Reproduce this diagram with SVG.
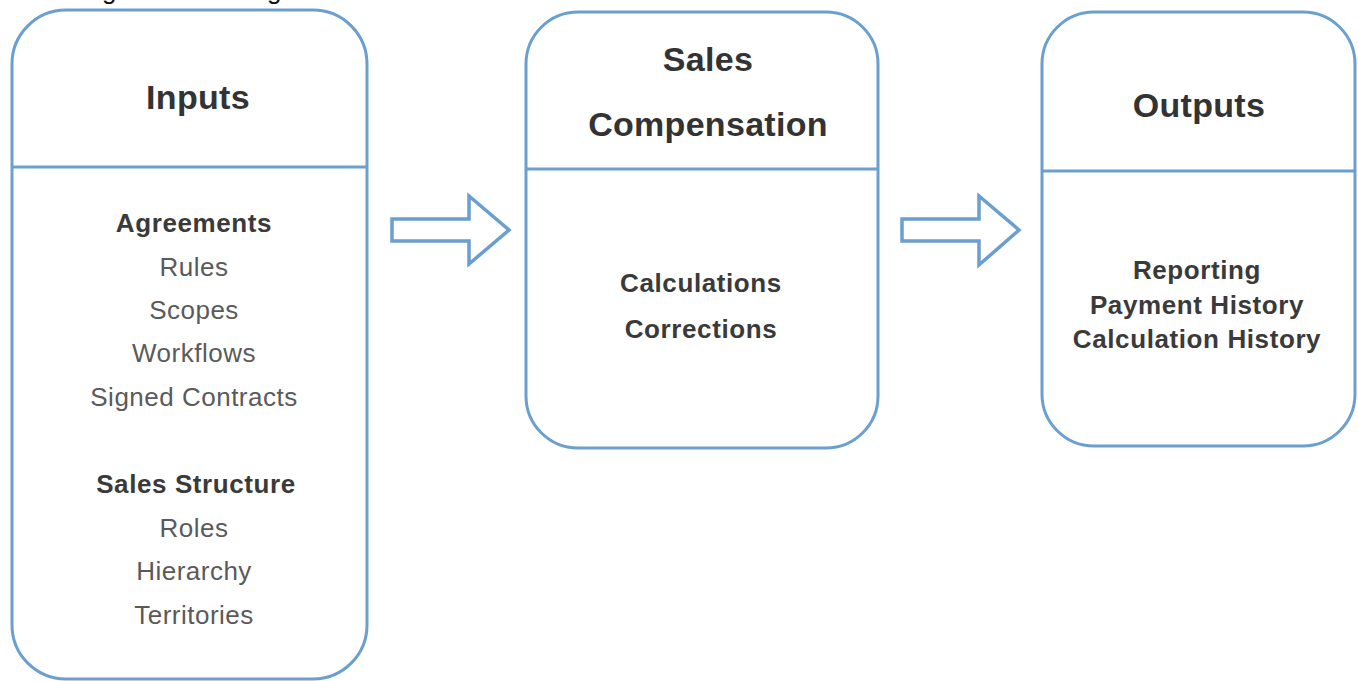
<svg xmlns="http://www.w3.org/2000/svg" width="1358" height="681" viewBox="0 0 1358 681">
  <style>
    .box { fill: #ffffff; stroke: #6a9fd0; stroke-width: 3; }
    .div { stroke: #6a9fd0; stroke-width: 3; }
    .arrow { fill: #ffffff; stroke: #6a9fd0; stroke-width: 3.5; stroke-linejoin: miter; }
    text { font-family: "Liberation Sans", Arial, sans-serif; text-anchor: middle; }
    .title { font-size: 34px; font-weight: bold; fill: #333333; letter-spacing: 0.3px; }
    .head { font-size: 26px; font-weight: bold; fill: #3a3a3a; letter-spacing: 0.6px; }
    .item { font-size: 26px; fill: #5a5a5a; letter-spacing: 0.5px; }
    .clip { font-size: 26px; fill: #111111; text-anchor: start; }
  </style>

  <rect width="1358" height="681" fill="#ffffff"/>

  <!-- caption line above the frame, mostly outside the canvas -->
  <text class="clip" x="102" y="-1">g</text>
  <text class="clip" x="267" y="-1">g</text>

  <!-- Inputs -->
  <g id="node-inputs">
    <rect class="box" x="12" y="10" width="355" height="669" rx="54" ry="54"/>
    <line class="div" x1="12" y1="167" x2="367" y2="167"/>
    <text class="title" x="198" y="109">Inputs</text>
    <text class="head" x="194" y="232">Agreements</text>
    <text class="item" x="194" y="276">Rules</text>
    <text class="item" x="194" y="319">Scopes</text>
    <text class="item" x="194" y="362">Workflows</text>
    <text class="item" x="194" y="406">Signed Contracts</text>
    <text class="head" x="196" y="493">Sales Structure</text>
    <text class="item" x="194" y="537">Roles</text>
    <text class="item" x="194" y="580">Hierarchy</text>
    <text class="item" x="194" y="624">Territories</text>
  </g>

  <!-- Sales Compensation -->
  <g id="node-sales-compensation">
    <rect class="box" x="526" y="12" width="352" height="436" rx="52" ry="52"/>
    <line class="div" x1="526" y1="169" x2="878" y2="169"/>
    <text class="title" x="708" y="71">Sales</text>
    <text class="title" x="708" y="136">Compensation</text>
    <text class="head" x="701" y="292">Calculations</text>
    <text class="head" x="701" y="338">Corrections</text>
  </g>

  <!-- Outputs -->
  <g id="node-outputs">
    <rect class="box" x="1042" y="12" width="313" height="434" rx="52" ry="52"/>
    <line class="div" x1="1042" y1="171" x2="1355" y2="171"/>
    <text class="title" x="1199" y="117">Outputs</text>
    <text class="head" x="1197" y="279">Reporting</text>
    <text class="head" x="1197" y="314">Payment History</text>
    <text class="head" x="1197" y="348">Calculation History</text>
  </g>

  <!-- block arrows between stages -->
  <g id="connectors">
    <path class="arrow" d="M392,219 H469 V196 L509,230 L469,264 V241 H392 Z"/>
    <path class="arrow" d="M902,219 H979 V196 L1019,230 L979,265 V241 H902 Z"/>
  </g>
</svg>
